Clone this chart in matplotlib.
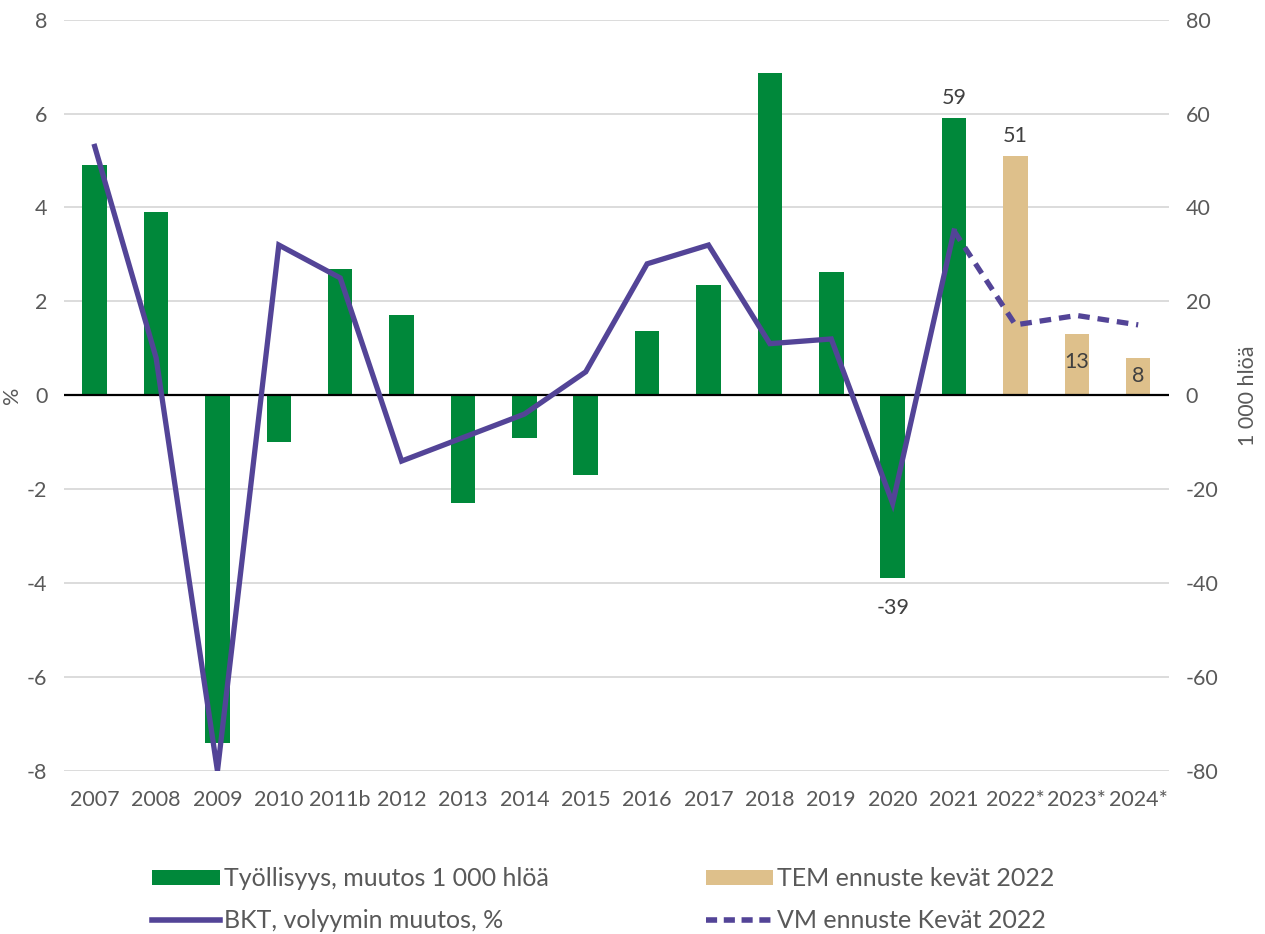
import matplotlib
matplotlib.use("Agg")
import matplotlib.pyplot as plt
from matplotlib.patches import Patch
from matplotlib.lines import Line2D
import numpy as np

plt.rcParams["font.family"] = ["Lato", "DejaVu Sans"]
plt.rcParams["axes.unicode_minus"] = False

categories = ["2007", "2008", "2009", "2010", "2011b", "2012", "2013", "2014", "2015",
              "2016", "2017", "2018", "2019", "2020", "2021", "2022*", "2023*", "2024*"]
# employment change, 1 000 persons (right axis)
employment = [49, 39, -74, -10, 27, 17, -23, -9, -17, 13.6, 23.4, 68.6, 26.2, -39, 59]
tem_forecast = [51, 13, 8]
# GDP volume change, % (left axis)
gdp = [5.3, 0.8, -8.0, 3.2, 2.5, -1.4, -0.9, -0.4, 0.5, 2.8, 3.2, 1.1, 1.2, -2.3, 3.5]
vm_forecast = [3.5, 1.5, 1.7, 1.5]  # starts at 2021

GREEN = "#00883A"
TAN = "#DEC08B"
PURPLE = "#534497"
TEXT = "#595959"
GRID = "#D9D9D9"

fig = plt.figure(figsize=(12.65, 9.34), dpi=100)
ax1 = fig.add_axes([0.0506, 0.1745, 0.8734, 0.8045])
ax2 = ax1.twinx()
ax1.set_zorder(2)
ax1.patch.set_visible(False)
ax2.set_zorder(1)

x = np.arange(len(categories))
n_hist = len(employment)
bw = 0.4

ax2.bar(x[:n_hist], employment, width=bw, color=GREEN, zorder=2)
ax2.bar(x[n_hist:], tem_forecast, width=bw, color=TAN, zorder=2)
ax2.set_ylim(-80, 80)
ax2.set_yticks(np.arange(-80, 81, 20))
ax2.yaxis.grid(True, color=GRID, linewidth=1.3, zorder=0)
ax2.set_axisbelow(True)

ax1.plot(x[:n_hist], gdp, color=PURPLE, linewidth=3.8, solid_joinstyle="miter", zorder=3)
ax1.plot(x[n_hist - 1:], vm_forecast, color=PURPLE, linewidth=3.8,
         linestyle=(0, (2.2, 1.5)), zorder=3)
ax1.axhline(0, color="black", linewidth=1.6, zorder=2)
ax1.set_ylim(-8, 8)
ax1.set_yticks(np.arange(-8, 9, 2))
ax1.set_xlim(-0.5, len(categories) - 0.5)
ax1.set_xticks(x)
ax1.set_xticklabels(categories)

for a in (ax1, ax2):
    for s in a.spines.values():
        s.set_visible(False)
    a.tick_params(length=0, labelsize=15.5, labelcolor=TEXT)
ax1.tick_params(axis="x", pad=14)
ax1.tick_params(axis="y", pad=12)
ax2.tick_params(axis="y", pad=12)

ax1.set_ylabel("%", fontsize=15.5, color=TEXT)
ax1.yaxis.set_label_coords(-0.038, 0.5)
ax2.set_ylabel("1 000 hlöä", fontsize=15.5, color=TEXT, labelpad=14)

# data labels
all_vals = employment + tem_forecast
label_offsets = {13: -30, 14: 20, 15: 20, 16: -28, 17: -18}
for i, dy in label_offsets.items():
    ax2.annotate(f"{all_vals[i]:.0f}", (x[i], all_vals[i]), xytext=(0, dy),
                 textcoords="offset pixels", ha="center", va="center",
                 fontsize=15.5, color="#404040")

handles = [
    Patch(facecolor=GREEN, label="Työllisyys, muutos 1 000 hlöä"),
    Line2D([], [], color=PURPLE, linewidth=4, label="BKT, volyymin muutos, %"),
    Patch(facecolor=TAN, label="TEM ennuste kevät 2022"),
    Line2D([], [], color=PURPLE, linewidth=4, linestyle=(0, (2.0, 1.2)),
           label="VM ennuste Kevät 2022"),
]
fig.legend(handles=handles, loc="center", bbox_to_anchor=(0.477, 0.037), ncol=2,
           frameon=False, fontsize=18, labelcolor=TEXT, handlelength=2.7,
           handleheight=0.55, handletextpad=0.15, columnspacing=6.3, labelspacing=0.75)

fig.savefig("out.png", dpi=100)
